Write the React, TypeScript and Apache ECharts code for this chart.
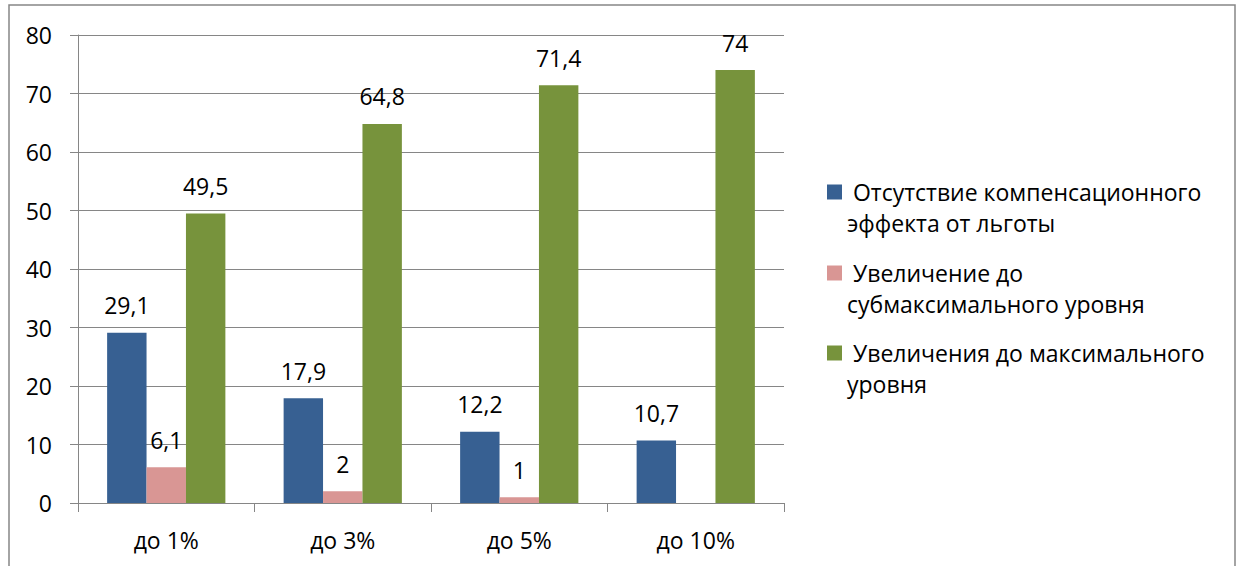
import React, { useEffect, useRef } from "react";
import * as echarts from "echarts";

const categories = ["до 1%", "до 3%", "до 5%", "до 10%"];
const seriesNames = [
  "Отсутствие компенсационного эффекта от льготы",
  "Увеличение до субмаксимального уровня",
  "Увеличения до максимального уровня",
];
const legendTexts = [
  " Отсутствие компенсационного\nэффекта от льготы",
  " Увеличение до\nсубмаксимального уровня",
  " Увеличения до максимального\nуровня",
];
const noCompensation = [29.1, 17.9, 12.2, 10.7];
const subMax = [6.1, 2, 1, null];
const maxLevel = [49.5, 64.8, 71.4, 74];
const colors = ["#376092", "#D99694", "#77933C"];
const yTicks = { min: 0, max: 80, interval: 10 };

const FONT = "Open Sans";
const FS = 23;
const GRAY = "#868686";

export default function App() {
  const ref = useRef<HTMLDivElement>(null);
  useEffect(() => {
    if (!ref.current) return;
    const chart = echarts.init(ref.current, null, { renderer: "svg" });
    const data = [noCompensation, subMax, maxLevel];
    const legendY = [192, 273, 353];
    const graphic: any[] = [
      {
        type: "rect",
        z: -10,
        shape: { x: 9, y: 5, width: 1226, height: 620 },
        style: { fill: "none", stroke: GRAY, lineWidth: 1.5 },
        silent: true,
      },
    ];
    legendTexts.forEach((t, i) => {
      graphic.push({
        type: "rect",
        shape: { x: 827, y: legendY[i] - 7.5, width: 15, height: 15 },
        style: { fill: colors[i] },
      });
      graphic.push({
        type: "text",
        x: 847,
        y: legendY[i] - 15.5,
        style: {
          text: t,
          fontFamily: FONT,
          fontSize: FS,
          lineHeight: 31,
          fill: "#000",
          verticalAlign: "top",
          align: "left",
        },
      });
    });
    chart.setOption({
      animation: false,
      textStyle: { fontFamily: FONT },
      grid: { left: 78, right: 459, top: 35, bottom: 63, containLabel: false },
      xAxis: {
        type: "category",
        data: categories,
        axisLine: { show: true, lineStyle: { color: GRAY, width: 1 } },
        axisTick: { show: true, alignWithLabel: false, length: 9, lineStyle: { color: GRAY } },
        axisLabel: { color: "#000", fontSize: FS, fontFamily: FONT, margin: 25 },
        splitLine: { show: false },
      },
      yAxis: {
        type: "value",
        min: yTicks.min,
        max: yTicks.max,
        interval: yTicks.interval,
        axisLine: { show: true, lineStyle: { color: GRAY, width: 1 } },
        axisTick: { show: true, length: 8, lineStyle: { color: GRAY } },
        axisLabel: { color: "#000", fontSize: FS, fontFamily: FONT, margin: 26 },
        splitLine: { show: true, lineStyle: { color: GRAY, width: 1 } },
      },
      series: seriesNames.map((name, i) => ({
        name,
        type: "bar",
        data: data[i],
        barGap: "0%",
        barCategoryGap: "33%",
        itemStyle: { color: colors[i] },
        label: {
          show: true,
          position: "top",
          distance: 16,
          color: "#000",
          fontSize: FS,
          fontFamily: FONT,
          formatter: (p: any) => String(p.value).replace(".", ","),
        },
      })),
      graphic,
    });
    return () => chart.dispose();
  }, []);
  return (
    <div
      ref={ref}
      style={{ position: "fixed", left: 0, top: 0, width: 1243, height: 566, background: "#fff" }}
    />
  );
}
